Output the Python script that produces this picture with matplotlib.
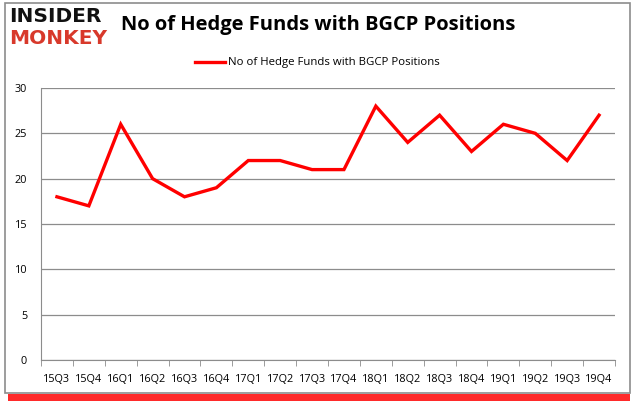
import numpy as np
import matplotlib
matplotlib.use("Agg")
import matplotlib.pyplot as plt
from matplotlib.patches import Rectangle

quarters = ["15Q3", "15Q4", "16Q1", "16Q2", "16Q3", "16Q4", "17Q1", "17Q2", "17Q3",
            "17Q4", "18Q1", "18Q2", "18Q3", "18Q4", "19Q1", "19Q2", "19Q3", "19Q4"]
funds = [18, 17, 26, 20, 18, 19, 22, 22, 21, 21, 28, 24, 27, 23, 26, 25, 22, 27]
series_name = "No of Hedge Funds with BGCP Positions"

plt.rcParams['font.family'] = ['Open Sans', 'DejaVu Sans']

fig = plt.figure(figsize=(6.35, 4.05), dpi=100)

# frame with red shadow
fig.patches.append(Rectangle((8 / 635, 4 / 405), 622 / 635, 7 / 405, transform=fig.transFigure,
                             facecolor="#ff2a2a", edgecolor="none", zorder=-3))
fig.patches.append(Rectangle((5 / 635, 12 / 405), 625 / 635, 390 / 405, transform=fig.transFigure,
                             facecolor="white", edgecolor="#8c8c8c", linewidth=1.2, zorder=-2))

ax = fig.add_axes([41 / 635, 45 / 405, 574 / 635, 272 / 405])
ax.patch.set_alpha(0)
x = np.arange(len(quarters))
ax.plot(x, funds, color="#ff0000", linewidth=2.4, solid_joinstyle="miter")

ax.set_xlim(-0.5, len(quarters) - 0.5)
ax.set_ylim(0, 30)
ax.set_yticks(range(0, 31, 5))
ax.yaxis.grid(True, color="#8c8c8c", linewidth=0.9)
ax.set_axisbelow(True)
ax.set_xticks(x)
ax.set_xticklabels(quarters)
ax.set_xticks(np.arange(-0.5, len(quarters), 1), minor=True)
ax.tick_params(axis="x", which="major", length=0, pad=10, labelsize=7.8)
ax.tick_params(axis="x", which="minor", length=4, direction="out", color="#8c8c8c")
ax.tick_params(axis="y", length=0, pad=10, labelsize=7.8)
for s in ["top", "right"]:
    ax.spines[s].set_visible(False)
ax.spines["left"].set_color("#8c8c8c")
ax.spines["bottom"].set_color("#8c8c8c")

# legend
fig.add_artist(plt.Line2D([195 / 635, 225 / 635], [1 - 62 / 405, 1 - 62 / 405],
                          color="#ff0000", linewidth=2.4, transform=fig.transFigure))
fig.text(228 / 635, 1 - 62 / 405, series_name, fontsize=8.2, va="center", ha="left")

# title and logo
fig.text(121 / 635, 1 - 25 / 405, "No of Hedge Funds with BGCP Positions", fontsize=14.5,
         fontweight="bold", va="center", ha="left")
fig.text(9 / 635, 1 - 17 / 405, "INSIDER", fontsize=14.5, fontweight="bold",
         family="DejaVu Sans", va="center", ha="left", color="#111111")
fig.text(9 / 635, 1 - 39 / 405, "MONKEY", fontsize=14.5, fontweight="bold",
         family="DejaVu Sans", va="center", ha="left", color="#d8392b")

fig.savefig("out.png", dpi=100)
